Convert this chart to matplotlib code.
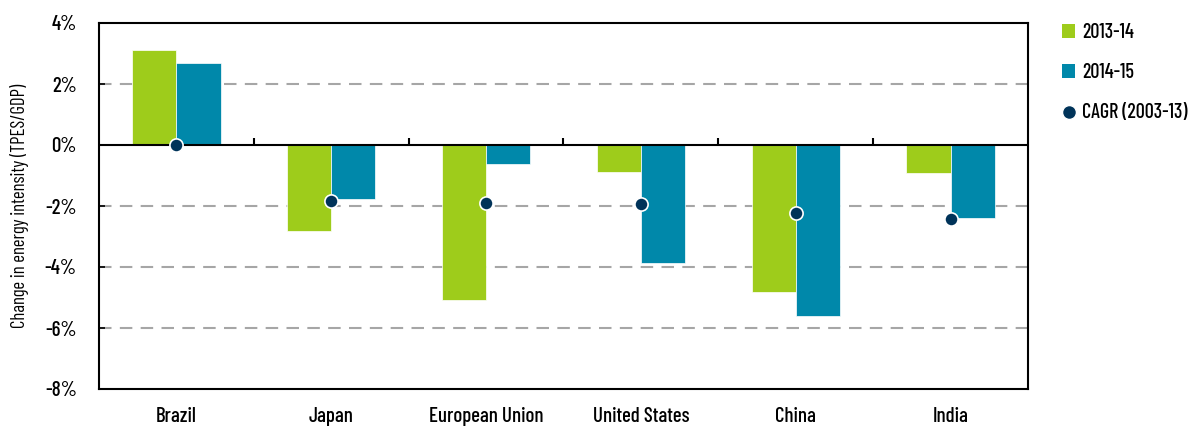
import matplotlib
matplotlib.use("Agg")
import matplotlib.pyplot as plt
from matplotlib import font_manager
from matplotlib.patches import Patch
from matplotlib.lines import Line2D
import numpy as np

# data (percent change in TPES/GDP)
regions = ["Brazil", "Japan", "European Union", "United States", "China", "India"]
chg_2013_14 = [3.11, -2.82, -5.07, -0.89, -4.81, -0.93]
chg_2014_15 = [2.70, -1.78, -0.62, -3.88, -5.61, -2.38]
cagr_2003_13 = [0.0, -1.84, -1.90, -1.95, -2.22, -2.44]
y_ticks = [4, 2, 0, -2, -4, -6, -8]

GREEN = "#9ECC1B"
BLUE = "#0088AA"
NAVY = "#003359"

# condensed sans, closest to the original look; fall back gracefully
names = {f.name for f in font_manager.fontManager.ttflist}
candidates = ["Barlow Condensed", "Roboto Condensed", "Archivo Narrow",
              "PT Sans Narrow", "Liberation Sans Narrow"]
font = next((c for c in candidates if c in names), "DejaVu Sans")
plt.rcParams["font.family"] = [font, "DejaVu Sans"]
plt.rcParams["font.weight"] = "medium"

fig = plt.figure(figsize=(11.92, 4.28), dpi=100)
ax = fig.add_axes([99 / 1192, 1 - 389 / 428, 929 / 1192, 366 / 428])

x = np.arange(len(regions))
bw = 0.285
ax.bar(x - bw / 2, chg_2013_14, bw, color=GREEN, edgecolor="white", linewidth=0.5, zorder=3)
ax.bar(x + bw / 2, chg_2014_15, bw, color=BLUE, edgecolor="white", linewidth=0.5, zorder=3)
ax.plot(x, cagr_2003_13, "o", color=NAVY, markersize=9.5, markeredgecolor="white",
        markeredgewidth=1.2, linestyle="none", zorder=5)

ax.set_xlim(-0.5, len(regions) - 0.5)
ax.set_ylim(-8, 4)
ax.set_yticks(y_ticks)
ax.set_yticklabels([f"{v}%" for v in y_ticks])

# grid + zero line
for v in y_ticks:
    if v in (4, -8):
        continue
    if v == 0:
        ax.axhline(0, color="black", linewidth=1.5, zorder=4)
    else:
        ax.axhline(v, color="#A6A6A6", linewidth=1.5, dashes=(6, 4), zorder=1)

# small separator ticks on the zero line
ax.vlines(x[1:] - 0.5, 0, 0.22, color="black", linewidth=1.5, zorder=4)

ax.set_xticks(x)
ax.set_xticklabels(regions)
ax.tick_params(axis="x", length=0, pad=13, labelsize=15)
ax.tick_params(axis="y", direction="in", length=4, width=1.2, pad=16, labelsize=15)
for s in ax.spines.values():
    s.set_linewidth(1.5)

ax.set_ylabel("Change in energy intensity (TPES/GDP)", fontsize=13.5, labelpad=11)

handles = [
    Patch(facecolor=GREEN, label="2013-14"),
    Patch(facecolor=BLUE, label="2014-15"),
    Line2D([], [], marker="o", color=NAVY, markersize=10, markeredgecolor="white",
           linestyle="none", label="CAGR (2003-13)"),
]
fig.legend(handles=handles, loc="upper left", bbox_to_anchor=(1044 / 1192, 1 - 5 / 428),
           frameon=False, fontsize=14.5, handlelength=0.65, handleheight=0.65,
           handletextpad=0.35, labelspacing=1.05)

fig.savefig("out.png", dpi=100)
